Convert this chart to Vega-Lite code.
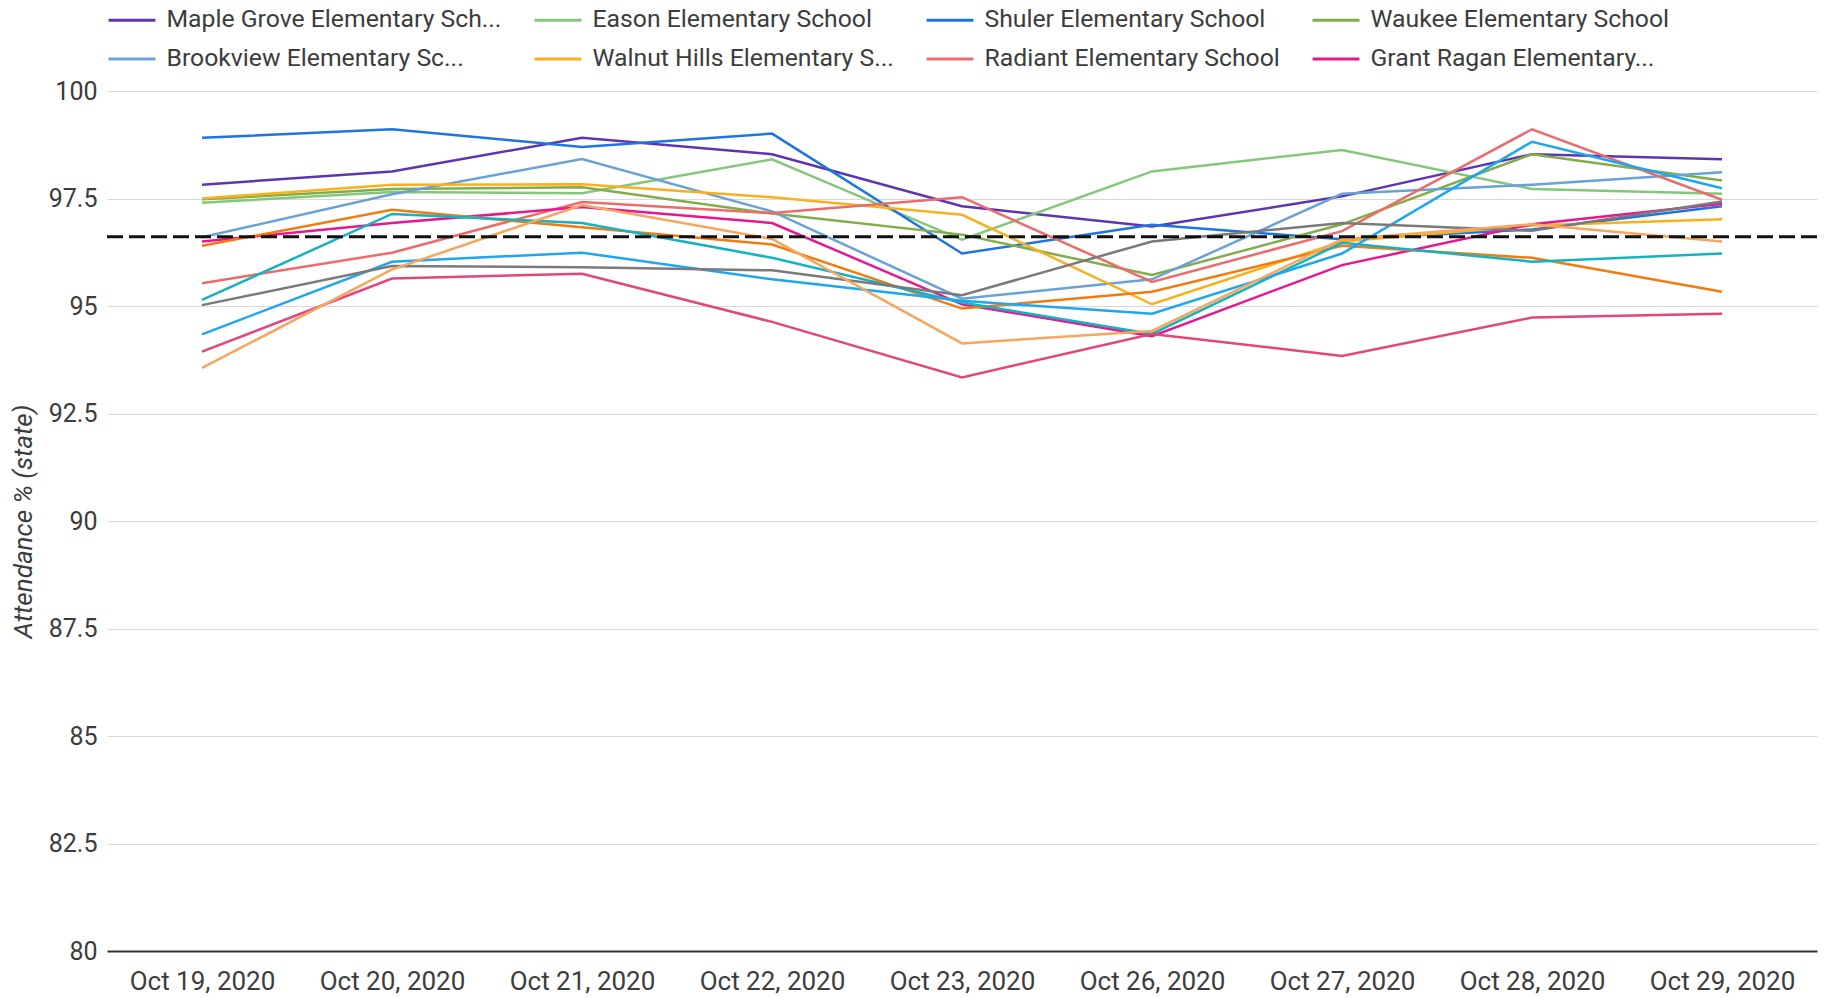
{
  "$schema": "https://vega.github.io/schema/vega-lite/v6.json",
  "width": 1710,
  "height": 860,
  "autosize": {"type": "none"},
  "padding": {"left": 107, "top": 91, "right": 16, "bottom": 47},
  "background": "white",
  "config": {
    "font": "Roboto",
    "view": {"stroke": null}
  },
  "datasets": {
    "schools": [
      {"date": "Oct 19, 2020", "school": "Maple Grove Elementary School", "attendance": 97.82},
      {"date": "Oct 20, 2020", "school": "Maple Grove Elementary School", "attendance": 98.13},
      {"date": "Oct 21, 2020", "school": "Maple Grove Elementary School", "attendance": 98.91},
      {"date": "Oct 22, 2020", "school": "Maple Grove Elementary School", "attendance": 98.53},
      {"date": "Oct 23, 2020", "school": "Maple Grove Elementary School", "attendance": 97.32},
      {"date": "Oct 26, 2020", "school": "Maple Grove Elementary School", "attendance": 96.85},
      {"date": "Oct 27, 2020", "school": "Maple Grove Elementary School", "attendance": 97.55},
      {"date": "Oct 28, 2020", "school": "Maple Grove Elementary School", "attendance": 98.53},
      {"date": "Oct 29, 2020", "school": "Maple Grove Elementary School", "attendance": 98.41},

      {"date": "Oct 19, 2020", "school": "Eason Elementary School", "attendance": 97.4},
      {"date": "Oct 20, 2020", "school": "Eason Elementary School", "attendance": 97.65},
      {"date": "Oct 21, 2020", "school": "Eason Elementary School", "attendance": 97.62},
      {"date": "Oct 22, 2020", "school": "Eason Elementary School", "attendance": 98.41},
      {"date": "Oct 23, 2020", "school": "Eason Elementary School", "attendance": 96.54},
      {"date": "Oct 26, 2020", "school": "Eason Elementary School", "attendance": 98.13},
      {"date": "Oct 27, 2020", "school": "Eason Elementary School", "attendance": 98.63},
      {"date": "Oct 28, 2020", "school": "Eason Elementary School", "attendance": 97.72},
      {"date": "Oct 29, 2020", "school": "Eason Elementary School", "attendance": 97.61},

      {"date": "Oct 19, 2020", "school": "Shuler Elementary School", "attendance": 98.91},
      {"date": "Oct 20, 2020", "school": "Shuler Elementary School", "attendance": 99.11},
      {"date": "Oct 21, 2020", "school": "Shuler Elementary School", "attendance": 98.7},
      {"date": "Oct 22, 2020", "school": "Shuler Elementary School", "attendance": 99.01},
      {"date": "Oct 23, 2020", "school": "Shuler Elementary School", "attendance": 96.22},
      {"date": "Oct 26, 2020", "school": "Shuler Elementary School", "attendance": 96.89},
      {"date": "Oct 27, 2020", "school": "Shuler Elementary School", "attendance": 96.55},
      {"date": "Oct 28, 2020", "school": "Shuler Elementary School", "attendance": 96.78},
      {"date": "Oct 29, 2020", "school": "Shuler Elementary School", "attendance": 97.32},

      {"date": "Oct 19, 2020", "school": "Waukee Elementary School", "attendance": 97.48},
      {"date": "Oct 20, 2020", "school": "Waukee Elementary School", "attendance": 97.72},
      {"date": "Oct 21, 2020", "school": "Waukee Elementary School", "attendance": 97.76},
      {"date": "Oct 22, 2020", "school": "Waukee Elementary School", "attendance": 97.15},
      {"date": "Oct 23, 2020", "school": "Waukee Elementary School", "attendance": 96.66},
      {"date": "Oct 26, 2020", "school": "Waukee Elementary School", "attendance": 95.72},
      {"date": "Oct 27, 2020", "school": "Waukee Elementary School", "attendance": 96.9},
      {"date": "Oct 28, 2020", "school": "Waukee Elementary School", "attendance": 98.53},
      {"date": "Oct 29, 2020", "school": "Waukee Elementary School", "attendance": 97.92},

      {"date": "Oct 19, 2020", "school": "Brookview Elementary School", "attendance": 96.6},
      {"date": "Oct 20, 2020", "school": "Brookview Elementary School", "attendance": 97.6},
      {"date": "Oct 21, 2020", "school": "Brookview Elementary School", "attendance": 98.42},
      {"date": "Oct 22, 2020", "school": "Brookview Elementary School", "attendance": 97.2},
      {"date": "Oct 23, 2020", "school": "Brookview Elementary School", "attendance": 95.17},
      {"date": "Oct 26, 2020", "school": "Brookview Elementary School", "attendance": 95.62},
      {"date": "Oct 27, 2020", "school": "Brookview Elementary School", "attendance": 97.61},
      {"date": "Oct 28, 2020", "school": "Brookview Elementary School", "attendance": 97.82},
      {"date": "Oct 29, 2020", "school": "Brookview Elementary School", "attendance": 98.11},

      {"date": "Oct 19, 2020", "school": "Walnut Hills Elementary School", "attendance": 97.5},
      {"date": "Oct 20, 2020", "school": "Walnut Hills Elementary School", "attendance": 97.82},
      {"date": "Oct 21, 2020", "school": "Walnut Hills Elementary School", "attendance": 97.83},
      {"date": "Oct 22, 2020", "school": "Walnut Hills Elementary School", "attendance": 97.53},
      {"date": "Oct 23, 2020", "school": "Walnut Hills Elementary School", "attendance": 97.12},
      {"date": "Oct 26, 2020", "school": "Walnut Hills Elementary School", "attendance": 95.04},
      {"date": "Oct 27, 2020", "school": "Walnut Hills Elementary School", "attendance": 96.5},
      {"date": "Oct 28, 2020", "school": "Walnut Hills Elementary School", "attendance": 96.87},
      {"date": "Oct 29, 2020", "school": "Walnut Hills Elementary School", "attendance": 97.02},

      {"date": "Oct 19, 2020", "school": "Radiant Elementary School", "attendance": 95.53},
      {"date": "Oct 20, 2020", "school": "Radiant Elementary School", "attendance": 96.24},
      {"date": "Oct 21, 2020", "school": "Radiant Elementary School", "attendance": 97.42},
      {"date": "Oct 22, 2020", "school": "Radiant Elementary School", "attendance": 97.16},
      {"date": "Oct 23, 2020", "school": "Radiant Elementary School", "attendance": 97.53},
      {"date": "Oct 26, 2020", "school": "Radiant Elementary School", "attendance": 95.56},
      {"date": "Oct 27, 2020", "school": "Radiant Elementary School", "attendance": 96.74},
      {"date": "Oct 28, 2020", "school": "Radiant Elementary School", "attendance": 99.11},
      {"date": "Oct 29, 2020", "school": "Radiant Elementary School", "attendance": 97.47},

      {"date": "Oct 19, 2020", "school": "Grant Ragan Elementary School", "attendance": 96.5},
      {"date": "Oct 20, 2020", "school": "Grant Ragan Elementary School", "attendance": 96.93},
      {"date": "Oct 21, 2020", "school": "Grant Ragan Elementary School", "attendance": 97.3},
      {"date": "Oct 22, 2020", "school": "Grant Ragan Elementary School", "attendance": 96.93},
      {"date": "Oct 23, 2020", "school": "Grant Ragan Elementary School", "attendance": 95.04},
      {"date": "Oct 26, 2020", "school": "Grant Ragan Elementary School", "attendance": 94.3},
      {"date": "Oct 27, 2020", "school": "Grant Ragan Elementary School", "attendance": 95.95},
      {"date": "Oct 28, 2020", "school": "Grant Ragan Elementary School", "attendance": 96.9},
      {"date": "Oct 29, 2020", "school": "Grant Ragan Elementary School", "attendance": 97.38},

      {"date": "Oct 19, 2020", "school": "Woodland Hills Elementary School", "attendance": 96.4},
      {"date": "Oct 20, 2020", "school": "Woodland Hills Elementary School", "attendance": 97.24},
      {"date": "Oct 21, 2020", "school": "Woodland Hills Elementary School", "attendance": 96.83},
      {"date": "Oct 22, 2020", "school": "Woodland Hills Elementary School", "attendance": 96.43},
      {"date": "Oct 23, 2020", "school": "Woodland Hills Elementary School", "attendance": 94.94},
      {"date": "Oct 26, 2020", "school": "Woodland Hills Elementary School", "attendance": 95.33},
      {"date": "Oct 27, 2020", "school": "Woodland Hills Elementary School", "attendance": 96.4},
      {"date": "Oct 28, 2020", "school": "Woodland Hills Elementary School", "attendance": 96.12},
      {"date": "Oct 29, 2020", "school": "Woodland Hills Elementary School", "attendance": 95.33},

      {"date": "Oct 19, 2020", "school": "Sugar Creek Elementary School", "attendance": 95.14},
      {"date": "Oct 20, 2020", "school": "Sugar Creek Elementary School", "attendance": 97.14},
      {"date": "Oct 21, 2020", "school": "Sugar Creek Elementary School", "attendance": 96.93},
      {"date": "Oct 22, 2020", "school": "Sugar Creek Elementary School", "attendance": 96.12},
      {"date": "Oct 23, 2020", "school": "Sugar Creek Elementary School", "attendance": 95.08},
      {"date": "Oct 26, 2020", "school": "Sugar Creek Elementary School", "attendance": 94.35},
      {"date": "Oct 27, 2020", "school": "Sugar Creek Elementary School", "attendance": 96.47},
      {"date": "Oct 28, 2020", "school": "Sugar Creek Elementary School", "attendance": 96.03},
      {"date": "Oct 29, 2020", "school": "Sugar Creek Elementary School", "attendance": 96.22},

      {"date": "Oct 19, 2020", "school": "Vince Meyer Elementary School", "attendance": 94.34},
      {"date": "Oct 20, 2020", "school": "Vince Meyer Elementary School", "attendance": 96.03},
      {"date": "Oct 21, 2020", "school": "Vince Meyer Elementary School", "attendance": 96.24},
      {"date": "Oct 22, 2020", "school": "Vince Meyer Elementary School", "attendance": 95.62},
      {"date": "Oct 23, 2020", "school": "Vince Meyer Elementary School", "attendance": 95.12},
      {"date": "Oct 26, 2020", "school": "Vince Meyer Elementary School", "attendance": 94.82},
      {"date": "Oct 27, 2020", "school": "Vince Meyer Elementary School", "attendance": 96.22},
      {"date": "Oct 28, 2020", "school": "Vince Meyer Elementary School", "attendance": 98.82},
      {"date": "Oct 29, 2020", "school": "Vince Meyer Elementary School", "attendance": 97.74},

      {"date": "Oct 19, 2020", "school": "Windfield Elementary School", "attendance": 95.02},
      {"date": "Oct 20, 2020", "school": "Windfield Elementary School", "attendance": 95.93},
      {"date": "Oct 21, 2020", "school": "Windfield Elementary School", "attendance": 95.9},
      {"date": "Oct 22, 2020", "school": "Windfield Elementary School", "attendance": 95.83},
      {"date": "Oct 23, 2020", "school": "Windfield Elementary School", "attendance": 95.25},
      {"date": "Oct 26, 2020", "school": "Windfield Elementary School", "attendance": 96.5},
      {"date": "Oct 27, 2020", "school": "Windfield Elementary School", "attendance": 96.93},
      {"date": "Oct 28, 2020", "school": "Windfield Elementary School", "attendance": 96.75},
      {"date": "Oct 29, 2020", "school": "Windfield Elementary School", "attendance": 97.43},

      {"date": "Oct 19, 2020", "school": "Timberline School", "attendance": 93.94},
      {"date": "Oct 20, 2020", "school": "Timberline School", "attendance": 95.64},
      {"date": "Oct 21, 2020", "school": "Timberline School", "attendance": 95.75},
      {"date": "Oct 22, 2020", "school": "Timberline School", "attendance": 94.63},
      {"date": "Oct 23, 2020", "school": "Timberline School", "attendance": 93.34},
      {"date": "Oct 26, 2020", "school": "Timberline School", "attendance": 94.35},
      {"date": "Oct 27, 2020", "school": "Timberline School", "attendance": 93.84},
      {"date": "Oct 28, 2020", "school": "Timberline School", "attendance": 94.73},
      {"date": "Oct 29, 2020", "school": "Timberline School", "attendance": 94.82},

      {"date": "Oct 19, 2020", "school": "Prairieview School", "attendance": 93.56},
      {"date": "Oct 20, 2020", "school": "Prairieview School", "attendance": 95.85},
      {"date": "Oct 21, 2020", "school": "Prairieview School", "attendance": 97.35},
      {"date": "Oct 22, 2020", "school": "Prairieview School", "attendance": 96.56},
      {"date": "Oct 23, 2020", "school": "Prairieview School", "attendance": 94.13},
      {"date": "Oct 26, 2020", "school": "Prairieview School", "attendance": 94.42},
      {"date": "Oct 27, 2020", "school": "Prairieview School", "attendance": 96.55},
      {"date": "Oct 28, 2020", "school": "Prairieview School", "attendance": 96.9},
      {"date": "Oct 29, 2020", "school": "Prairieview School", "attendance": 96.5}
    ],
    "state": [{"state_average": 96.61}]
  },
  "layer": [
    {
      "data": {"name": "schools"},
      "mark": {"type": "line", "strokeWidth": 2.5, "interpolate": "linear"},
      "encoding": {
        "x": {
          "field": "date",
          "type": "ordinal",
          "sort": ["Oct 19, 2020", "Oct 20, 2020", "Oct 21, 2020", "Oct 22, 2020", "Oct 23, 2020", "Oct 26, 2020", "Oct 27, 2020", "Oct 28, 2020", "Oct 29, 2020"],
          "scale": {"type": "point", "padding": 0.5},
          "axis": {
            "title": null,
            "labelAngle": 0,
            "labelFontSize": 26,
            "labelColor": "#3c3c3c",
            "labelPadding": 17,
            "ticks": false,
            "grid": false,
            "domain": true,
            "domainColor": "#333333",
            "domainWidth": 2
          }
        },
        "y": {
          "field": "attendance",
          "type": "quantitative",
          "scale": {"domain": [80, 100], "nice": false, "zero": false},
          "axis": {
            "title": "Attendance % (state)",
            "titleFontStyle": "italic",
            "titleFontWeight": "normal",
            "titleFontSize": 26,
            "titleColor": "#3c3c3c",
            "titleX": -84,
            "titleY": 430,
            "titleBaseline": "middle",
            "titleAlign": "center",
            "values": [80, 82.5, 85, 87.5, 90, 92.5, 95, 97.5, 100],
            "format": ".1~f",
            "labelFontSize": 25,
            "labelColor": "#3c3c3c",
            "labelPadding": 10,
            "ticks": false,
            "domain": false,
            "grid": true,
            "gridColor": "#d9d9d9",
            "gridWidth": 1
          }
        },
        "color": {
          "field": "school",
          "type": "nominal",
          "scale": {
            "domain": [
              "Maple Grove Elementary School", "Eason Elementary School", "Shuler Elementary School", "Waukee Elementary School",
              "Brookview Elementary School", "Walnut Hills Elementary School", "Radiant Elementary School", "Grant Ragan Elementary School",
              "Woodland Hills Elementary School", "Sugar Creek Elementary School", "Vince Meyer Elementary School", "Windfield Elementary School",
              "Timberline School", "Prairieview School"
            ],
            "range": [
              "#5e35b1", "#85c77a", "#1e74e0", "#82ad48",
              "#6aa2d6", "#f9b01c", "#ec6b6b", "#e8178f",
              "#f27b0f", "#15b2bf", "#1ea6ee", "#7a7a7a",
              "#e2467c", "#f6a65e"
            ]
          },
          "legend": {
            "title": null,
            "orient": "none",
            "legendX": 0,
            "legendY": -96,
            "direction": "horizontal",
            "columns": 4,
            "columnPadding": 26,
            "rowPadding": 2,
            "symbolType": "stroke",
            "symbolSize": 2200,
            "symbolStrokeWidth": 3,
            "labelFontSize": 24.75,
            "labelColor": "#3c3c3c",
            "labelLimit": 600,
            "labelOffset": 9.5,
            "values": [
              "Maple Grove Elementary School", "Eason Elementary School", "Shuler Elementary School", "Waukee Elementary School",
              "Brookview Elementary School", "Walnut Hills Elementary School", "Radiant Elementary School", "Grant Ragan Elementary School"
            ],
            "labelExpr": "datum.value == 'Maple Grove Elementary School' ? 'Maple Grove Elementary Sch...' : datum.value == 'Brookview Elementary School' ? 'Brookview Elementary Sc...' : datum.value == 'Walnut Hills Elementary School' ? 'Walnut Hills Elementary S...' : datum.value == 'Grant Ragan Elementary School' ? 'Grant Ragan Elementary...' : datum.label"
          }
        }
      }
    },
    {
      "data": {"name": "state"},
      "mark": {"type": "rule", "color": "#111111", "strokeWidth": 3, "strokeDash": [16, 6]},
      "encoding": {
        "y": {"field": "state_average", "type": "quantitative"}
      }
    }
  ]
}
